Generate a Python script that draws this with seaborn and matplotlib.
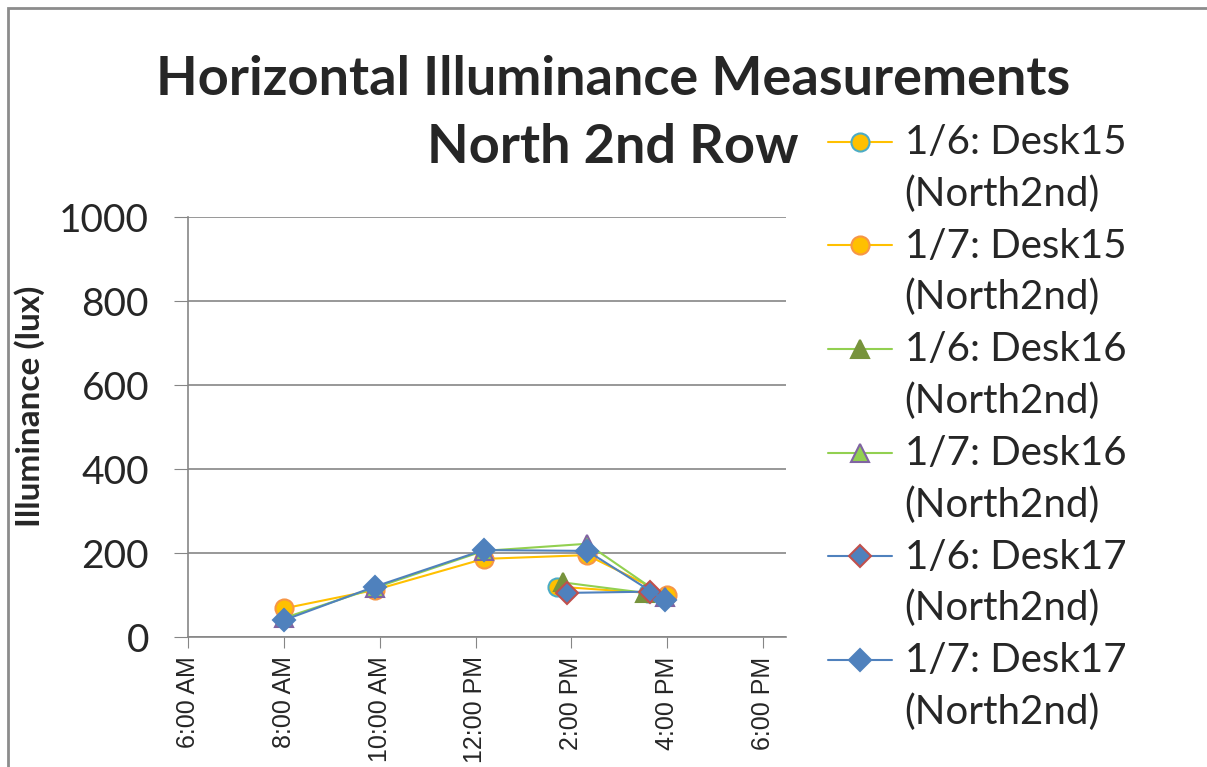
import numpy as np
import pandas as pd
import matplotlib
matplotlib.use("Agg")
import matplotlib.pyplot as plt
import seaborn as sns
from matplotlib.patches import Rectangle
from matplotlib.lines import Line2D
from matplotlib.legend_handler import HandlerLine2D

time_jan6_d15 = [13.70, 15.60]
lux_jan6_d15 = [120, 105]
time_jan7_d15 = [8.0, 9.9, 12.17, 14.33, 16.0]
lux_jan7_d15 = [68, 112, 186, 195, 100]
time_jan6_d16 = [13.82, 15.54]
lux_jan6_d16 = [130, 105]
time_jan7_d16 = [8.0, 9.9, 12.17, 14.33, 15.95]
lux_jan7_d16 = [45, 117, 205, 222, 95]
time_jan6_d17 = [13.91, 15.65]
lux_jan6_d17 = [105, 108]
time_jan7_d17 = [8.0, 9.9, 12.17, 14.33, 15.95]
lux_jan7_d17 = [40, 120, 207, 205, 88]

series_labels = ["1/6: Desk15\n(North2nd)", "1/7: Desk15\n(North2nd)",
                 "1/6: Desk16\n(North2nd)", "1/7: Desk16\n(North2nd)",
                 "1/6: Desk17\n(North2nd)", "1/7: Desk17\n(North2nd)"]
tick_hours = [6, 8, 10, 12, 14, 16, 18]
tick_labels = ["6:00 AM", "8:00 AM", "10:00 AM", "12:00 PM", "2:00 PM", "4:00 PM", "6:00 PM"]

series = [
    (time_jan6_d15, lux_jan6_d15, "#FFC000", "o", "#FFC000", "#4BACC6"),
    (time_jan7_d15, lux_jan7_d15, "#FFC000", "o", "#FFC000", "#F79646"),
    (time_jan6_d16, lux_jan6_d16, "#92D050", "^", "#77933C", "#77933C"),
    (time_jan7_d16, lux_jan7_d16, "#92D050", "^", "#92D050", "#8064A2"),
    (time_jan6_d17, lux_jan6_d17, "#4F81BD", "D", "#4F81BD", "#C0504D"),
    (time_jan7_d17, lux_jan7_d17, "#4F81BD", "D", "#4F81BD", "#4F81BD"),
]

LEG_FS = 29
LEG_LS = 1.46


class FirstLineHandler(HandlerLine2D):
    # put the legend handle beside the first line of a two-line label
    def create_artists(self, legend, orig_handle, xdescent, ydescent, width, height, fontsize, trans):
        shift = LEG_LS * fontsize * 0.47
        return super().create_artists(legend, orig_handle, xdescent, ydescent - 2 * shift,
                                      width, height, fontsize, trans)


sns.set_style("white")
plt.rcParams["font.family"] = ["Lato", "DejaVu Sans"]

fig = plt.figure(figsize=(12.07, 7.67), dpi=100)
ax = fig.add_axes([188 / 1207, 1 - 637 / 767, (786 - 188) / 1207, (637 - 217) / 767])

for (t, v, lc, mk, mfc, mec), lab in zip(series, series_labels):
    df = pd.DataFrame({"time": t, "lux": v})
    ms = 11 if mk == "D" else 13
    sns.lineplot(data=df, x="time", y="lux", ax=ax, color=lc, marker=mk,
                 markersize=ms, markerfacecolor=mfc, markeredgecolor=mec,
                 markeredgewidth=1.5, linewidth=1.5, label=lab, sort=False)

ax.set_xlim(6, 18.48)
ax.set_ylim(0, 1000)
ax.set_xticks(tick_hours)
ax.set_xticklabels(tick_labels, rotation=90, family="Liberation Sans", fontsize=18)
ax.set_yticks(range(0, 1001, 200))
ax.tick_params(axis="y", labelsize=28, length=10, color="#868686", direction="out", pad=18, left=True)
ax.tick_params(axis="x", length=8, color="#868686", direction="out", pad=6, bottom=True)
ax.yaxis.grid(True, color="#868686", linewidth=1.2)
ax.xaxis.grid(False)
for s in ["top", "right"]:
    ax.spines[s].set_visible(False)
for s in ["left", "bottom"]:
    ax.spines[s].set_color("#868686")
    ax.spines[s].set_linewidth(1.2)
ax.set_xlabel("")
ax.set_ylabel("Illuminance (lux)", fontsize=24, fontweight="bold")
ax.yaxis.set_label_coords((45 - 188) / 598, (637 - 406) / 420)

leg = ax.legend(loc="upper left", bbox_to_anchor=(828 / 1207, 1 - 124 / 767),
                bbox_transform=fig.transFigure, frameon=False, fontsize=LEG_FS,
                handlelength=1.6, handletextpad=0.3, labelspacing=0.37,
                borderpad=0, borderaxespad=0,
                handler_map={Line2D: FirstLineHandler()})
for txt in leg.get_texts():
    txt.set_linespacing(LEG_LS)

fig.text(613 / 1207, 1 - 95 / 767, "Horizontal Illuminance Measurements",
         ha="center", va="baseline", fontsize=39, fontweight="bold")
fig.text(613 / 1207, 1 - 163 / 767, "North 2nd Row",
         ha="center", va="baseline", fontsize=39, fontweight="bold")

fig.patches.append(Rectangle((8 / 1207, -0.2), 1.5, 1.2 - 8 / 767, transform=fig.transFigure,
                             fill=False, edgecolor="#8C8C8C", linewidth=2))

fig.savefig("out.png", dpi=100)
